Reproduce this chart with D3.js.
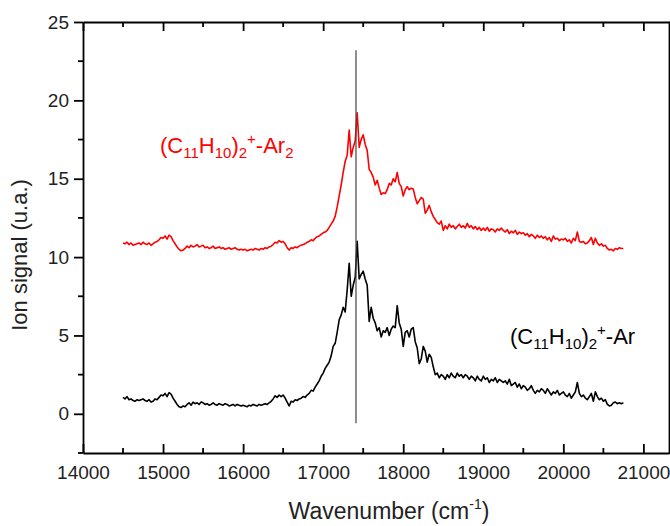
<!DOCTYPE html>
<html>
<head>
<meta charset="utf-8">
<script src="https://cdn.jsdelivr.net/npm/d3@7"></script>
<style>
  body { margin: 0; background: #fff; }
  svg { display: block; font-family: Arial, "Liberation Sans", sans-serif; }
  .axis path, .axis line { stroke: #000; stroke-width: 1.8; }
  .axis text { font-size: 19px; fill: #222; }
</style>
</head>
<body>
<svg width="670" height="526"></svg>
<script>
const width = 670;
const height = 526;
const margin = { top: 22, right: 1, bottom: 73, left: 83 };

// wavenumber grid of the spectra (cm-1)
const startWavenumber = 14500;
const stepWavenumber = 25;

// (C11H10)2+-Ar, ion signal
const arSignal = [
  1.05, 0.95, 1.1, 0.9, 0.95, 0.85, 0.8, 0.9, 0.85, 0.9,
  0.95, 0.85, 0.8, 0.9, 0.75, 0.8, 0.95, 0.9, 1.05, 1.2,
  1.15, 1.3, 1.1, 1.35, 1.25, 1.0, 0.8, 0.6, 0.45, 0.4,
  0.5, 0.45, 0.6, 0.7, 0.55, 0.75, 0.65, 0.7, 0.6, 0.75,
  0.7, 0.6, 0.65, 0.55, 0.6, 0.7, 0.6, 0.55, 0.65, 0.6,
  0.55, 0.65, 0.6, 0.5, 0.55, 0.6, 0.5, 0.6, 0.55, 0.5,
  0.55, 0.5, 0.45, 0.55, 0.5, 0.6, 0.55, 0.5, 0.6, 0.55,
  0.6, 0.65, 0.6, 0.7, 0.8, 0.95, 1.15, 1.05, 1.2, 1.1,
  1.2, 1.0, 0.75, 0.5, 0.8, 0.75, 0.9, 0.85, 0.95, 1.0,
  1.1, 1.05, 1.2, 1.3, 1.5, 1.45, 1.7, 1.9, 2.1, 2.4,
  2.6, 2.9, 3.1, 3.3, 3.7, 4.3, 4.5, 5.2, 6.0, 6.3,
  6.8, 6.5, 7.9, 9.6, 7.5, 8.2, 8.7, 11.0, 8.6, 8.9,
  9.1, 8.6, 8.2, 5.9, 6.8, 6.1, 5.8, 5.3, 5.5, 4.9,
  5.3, 5.2, 5.5, 5.0, 5.4, 5.6, 5.5, 6.9, 5.8, 5.4,
  4.3, 5.2, 5.3, 4.9, 5.4, 5.5, 4.6, 4.2, 3.2, 3.5,
  4.3, 4.0, 3.3, 3.8, 3.6, 3.0, 2.5, 2.6, 2.3, 2.5,
  2.4, 2.2, 2.5, 2.3, 2.6, 2.4, 2.3, 2.6, 2.4, 2.5,
  2.3, 2.5, 2.4, 2.2, 2.4, 2.3, 2.1, 2.4, 2.2, 2.1,
  2.4, 2.2, 2.3, 2.0, 2.2, 2.1, 2.3, 2.0, 2.2, 2.1,
  2.0, 2.1, 1.9, 2.2, 1.8, 1.9, 2.0, 1.7, 1.9, 1.6,
  1.8, 1.7, 1.5, 1.6, 1.8, 1.5, 1.3, 1.5, 1.4, 1.6,
  1.5, 1.3, 1.6, 1.4, 1.2, 1.4, 1.3, 1.5, 1.2, 1.3,
  1.4, 1.2, 1.1, 1.3, 1.0, 1.2, 1.4, 2.0, 1.3, 1.1,
  1.2, 1.0, 0.9, 1.1, 1.3, 0.8, 1.4, 1.1, 0.9, 1.0,
  0.8, 0.9, 0.6, 0.5, 0.55, 0.7, 0.75, 0.65, 0.7, 0.65,
  0.7
];

// (C11H10)2+-Ar2, ion signal (offset trace)
const ar2Signal = [
  10.9, 10.85, 10.95, 10.8, 10.9, 10.75, 10.8, 10.85, 10.9, 10.8,
  10.95, 10.85, 10.8, 10.9, 10.75, 10.85, 10.95, 11.0, 11.1, 11.25,
  11.2, 11.35, 11.15, 11.4, 11.3, 11.05, 10.85, 10.65, 10.5, 10.4,
  10.45, 10.55, 10.7, 10.6, 10.75, 10.65, 10.7, 10.8, 10.65, 10.7,
  10.75, 10.6, 10.65, 10.55, 10.6, 10.7, 10.55, 10.6, 10.65, 10.55,
  10.6, 10.5, 10.55, 10.6, 10.5, 10.55, 10.6, 10.5, 10.45, 10.5,
  10.45, 10.5, 10.4, 10.45, 10.5, 10.45, 10.55, 10.5, 10.45, 10.55,
  10.5, 10.6, 10.55, 10.65, 10.7, 10.8, 10.95, 10.9, 11.05, 10.95,
  11.0, 10.85, 10.6, 10.45, 10.6, 10.55, 10.65, 10.6, 10.7, 10.75,
  10.8, 10.85, 10.95, 11.0, 11.1, 11.05, 11.2, 11.3, 11.35, 11.45,
  11.55, 11.6, 11.7, 11.9, 12.1, 12.3, 12.6, 13.2, 13.9, 14.6,
  15.4, 16.1, 16.5, 18.1, 16.4, 17.0, 17.4, 19.2, 17.0, 17.5,
  17.8, 17.2, 16.8, 15.6, 15.4, 15.1, 14.6, 14.9, 14.4, 14.0,
  14.1, 14.05, 14.3, 14.7, 14.6, 15.0, 14.8, 15.4, 14.7, 14.5,
  13.9, 14.3, 14.5, 14.3, 14.4, 14.35, 13.8, 13.4, 13.6, 13.8,
  13.7, 12.8, 13.0, 13.3, 12.9, 12.6, 12.4, 12.2, 12.1, 12.3,
  11.7, 12.0, 11.8, 12.1, 11.9, 12.0, 11.8, 11.95, 12.1, 11.9,
  12.0, 11.85, 12.15, 11.9, 12.0, 11.8, 11.95, 11.75, 11.9, 11.7,
  11.85, 11.7, 11.9, 11.65, 11.8, 11.75, 11.6, 11.8, 11.7, 11.85,
  11.7, 11.6, 11.75, 11.5, 11.65, 11.55, 11.7, 11.45, 11.6, 11.5,
  11.55, 11.4, 11.5, 11.3, 11.45, 11.35, 11.2, 11.4, 11.25, 11.35,
  11.2, 11.3, 11.1, 11.25, 11.0, 11.35, 11.15, 11.2, 11.05, 11.15,
  11.1, 11.2, 11.0, 11.1, 10.9, 11.2, 11.05, 11.6, 11.0, 10.95,
  11.0, 10.85, 10.9, 11.05, 11.25, 10.8, 11.2, 10.9, 10.75, 10.85,
  10.7, 10.75, 10.55, 10.45, 10.5, 10.4, 10.55, 10.5, 10.6, 10.55,
  10.55
];

// vertical marker line
const markerWavenumber = 17410;
const markerRange = [-0.6, 23.2];

const xTicks = [14000, 15000, 16000, 17000, 18000, 19000, 20000, 21000];
const yTicks = [0, 5, 10, 15, 20, 25];

const svg = d3.select("svg");

const x = d3
  .scaleLinear()
  .domain([14000, 21320])
  .range([margin.left, width - margin.right]);

const y = d3
  .scaleLinear()
  .domain([-2.5, 25])
  .range([height - margin.bottom, margin.top]);

const toPoints = (values) =>
  values.map((v, i) => [startWavenumber + i * stepWavenumber, v]);

const line = d3
  .line()
  .x((d) => x(d[0]))
  .y((d) => y(d[1]));

// minor ticks are halfway between the major ones
const xMinor = d3.range(14500, 21300, 1000);
const yMinor = d3.range(-2.5, 25, 5);

// bottom axis, ticks inward
const gBottom = svg
  .append("g")
  .attr("class", "axis")
  .attr("transform", `translate(0,${y.range()[0]})`);
gBottom
  .call(
    d3.axisBottom(x).tickValues(xTicks).tickFormat(d3.format("d"))
      .tickSizeInner(-9).tickSizeOuter(0).tickPadding(13)
  )
  .call((g) => g.selectAll("text").attr("dy", "0.71em"));
gBottom
  .selectAll(".minor")
  .data(xMinor)
  .join("line")
  .attr("class", "minor")
  .attr("x1", (d) => x(d))
  .attr("x2", (d) => x(d))
  .attr("y1", 0)
  .attr("y2", -5);

// top axis, ticks inward, no labels
const gTop = svg
  .append("g")
  .attr("class", "axis")
  .attr("transform", `translate(0,${y.range()[1]})`);
gTop.call(d3.axisTop(x).tickValues(xTicks).tickSizeInner(-9).tickSizeOuter(0).tickFormat(""));
gTop
  .selectAll(".minor")
  .data(xMinor)
  .join("line")
  .attr("class", "minor")
  .attr("x1", (d) => x(d))
  .attr("x2", (d) => x(d))
  .attr("y1", 0)
  .attr("y2", 5);

// left axis, ticks outward
const gLeft = svg
  .append("g")
  .attr("class", "axis")
  .attr("transform", `translate(${x.range()[0]},0)`);
gLeft.call(d3.axisLeft(y).tickValues(yTicks).tickSizeInner(9).tickSizeOuter(0).tickPadding(5));
gLeft
  .selectAll(".minor")
  .data(yMinor)
  .join("line")
  .attr("class", "minor")
  .attr("x1", 0)
  .attr("x2", -5)
  .attr("y1", (d) => y(d))
  .attr("y2", (d) => y(d));

// right axis, ticks outward
const gRight = svg
  .append("g")
  .attr("class", "axis")
  .attr("transform", `translate(${x.range()[1]},0)`);
gRight.call(d3.axisRight(y).tickValues(yTicks).tickSizeInner(9).tickSizeOuter(0).tickFormat(""));
gRight
  .selectAll(".minor")
  .data(yMinor)
  .join("line")
  .attr("class", "minor")
  .attr("x1", 0)
  .attr("x2", 5)
  .attr("y1", (d) => y(d))
  .attr("y2", (d) => y(d));

// spectra
svg
  .append("path")
  .datum(toPoints(ar2Signal))
  .attr("fill", "none")
  .attr("stroke", "#ff0000")
  .attr("stroke-width", 1.6)
  .attr("stroke-linejoin", "round")
  .attr("d", line);

svg
  .append("path")
  .datum(toPoints(arSignal))
  .attr("fill", "none")
  .attr("stroke", "#000")
  .attr("stroke-width", 1.6)
  .attr("stroke-linejoin", "round")
  .attr("d", line);

svg
  .append("line")
  .attr("x1", x(markerWavenumber))
  .attr("x2", x(markerWavenumber))
  .attr("y1", y(markerRange[1]))
  .attr("y2", y(markerRange[0]))
  .attr("stroke", "#444")
  .attr("stroke-width", 1.2);

// formula labels with sub/superscripts
function formula(xPos, yPos, color, parts) {
  const t = svg
    .append("text")
    .attr("x", xPos)
    .attr("y", yPos)
    .attr("fill", color)
    .attr("font-size", 22);
  parts.forEach(([txt, kind]) => {
    const s = t.append("tspan").text(txt);
    if (kind === "sub") s.attr("font-size", 15).attr("baseline-shift", "-5");
    if (kind === "sup") s.attr("font-size", 15).attr("baseline-shift", "9");
  });
}

formula(160, 153, "#ff0000", [
  ["(C"], ["11", "sub"], ["H"], ["10", "sub"], [")"], ["2", "sub"], ["+", "sup"], ["-Ar"], ["2", "sub"]
]);

formula(510, 344, "#000", [
  ["(C"], ["11", "sub"], ["H"], ["10", "sub"], [")"], ["2", "sub"], ["+", "sup"], ["-Ar"]
]);

// axis titles
const xTitle = svg
  .append("text")
  .attr("x", 389)
  .attr("y", 519)
  .attr("text-anchor", "middle")
  .attr("font-size", 23)
  .attr("fill", "#222");
xTitle.append("tspan").text("Wavenumber (cm");
xTitle.append("tspan").text("-1").attr("font-size", 14).attr("baseline-shift", "10");
xTitle.append("tspan").text(")");

svg
  .append("text")
  .attr("transform", "translate(27,255) rotate(-90)")
  .attr("text-anchor", "middle")
  .attr("font-size", 22)
  .attr("fill", "#222")
  .text("Ion signal (u.a.)");
</script>
</body>
</html>
